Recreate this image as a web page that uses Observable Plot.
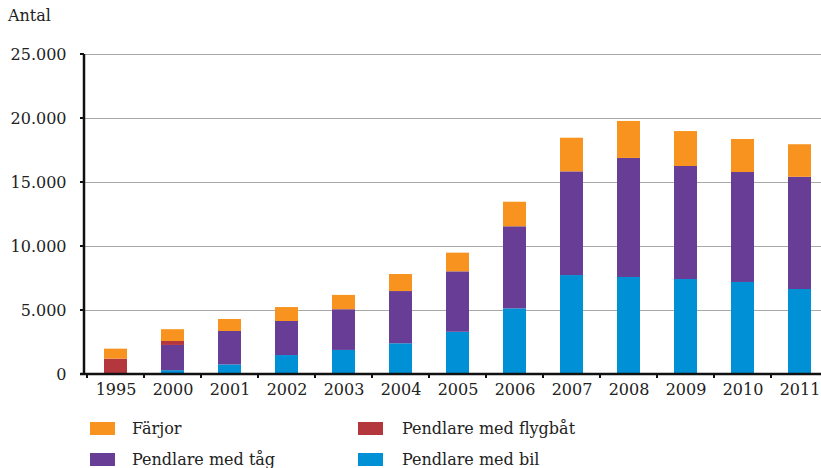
<!DOCTYPE html>
<html>
<head>
<meta charset="utf-8">
<script src="https://cdn.jsdelivr.net/npm/d3@7"></script>
<script src="https://cdn.jsdelivr.net/npm/@observablehq/plot@0.6"></script>
<style>
  body { margin: 0; background: #fff; font-family: "DejaVu Serif", serif; color: #222; }
  #wrap { position: relative; width: 821px; height: 468px; overflow: hidden; }
  #ylabel { position: absolute; left: 8px; top: 6px; font-size: 16px; }
  #chart { position: absolute; left: 0; top: 0; }
  #legend { position: absolute; left: 90px; top: 418px; display: grid; grid-template-columns: 268px 300px; row-gap: 11px; font-size: 16px; }
  .item { display: flex; align-items: center; height: 20px; }
  .sw { width: 25px; height: 13px; margin-right: 17px; }
  .item:nth-child(even) .sw { margin-right: 19px; }
</style>
</head>
<body>
<div id="wrap">
  <div id="ylabel">Antal</div>
  <div id="chart"></div>
  <div id="legend"></div>
</div>
<script>
const years = ["1995","2000","2001","2002","2003","2004","2005","2006","2007","2008","2009","2010","2011"];
const bil     = [0, 300, 750, 1480, 1880, 2400, 3300, 5130, 7730, 7580, 7420, 7190, 6640];
const tag     = [0, 1970, 2610, 2660, 3180, 4080, 4720, 6410, 8100, 9300, 8830, 8590, 8770];
const flygbat = [1200, 310, 0, 0, 0, 0, 0, 0, 0, 0, 0, 0, 0];
const farjor  = [780, 920, 940, 1090, 1120, 1330, 1460, 1920, 2630, 2890, 2730, 2580, 2540];
const seriesNames = ["Pendlare med bil", "Pendlare med tåg", "Pendlare med flygbåt", "Färjor"];
const seriesColors = ["#0090d6", "#673d96", "#b5373e", "#f7931e"];
const yTicks = [0, 5000, 10000, 15000, 20000, 25000];
const legendOrder = ["Färjor", "Pendlare med flygbåt", "Pendlare med tåg", "Pendlare med bil"];

const values = [bil, tag, flygbat, farjor];
const data = [];
years.forEach((y, i) => {
  seriesNames.forEach((s, k) => data.push({year: y, series: s, value: values[k][i]}));
});

const fmt = d => d === 0 ? "0" : d3.format(",")(d).replace(/,/g, ".");

// axis lines and boundary ticks, drawn from the plot's own scales
function axisLines(index, scales, values, dims) {
  const g = d3.create("svg:g").attr("stroke", "#111").attr("fill", "none");
  const x0 = dims.marginLeft;
  const yb = scales.y(0), yt = scales.y(25000);
  const step = scales.x(years[1]) - scales.x(years[0]);
  const bw = scales.x.bandwidth ? scales.x.bandwidth() : step * 0.4;
  // y axis line
  g.append("line").attr("x1", x0).attr("x2", x0).attr("y1", yt).attr("y2", yb).attr("stroke-width", 2.5);
  // y ticks
  for (const t of yTicks) {
    g.append("line").attr("x1", x0 - 4).attr("x2", x0).attr("y1", scales.y(t)).attr("y2", scales.y(t)).attr("stroke-width", 2);
  }
  // baseline
  g.append("line").attr("x1", x0 - 4).attr("x2", dims.width).attr("y1", yb).attr("y2", yb).attr("stroke-width", 2.5);
  // x ticks at category boundaries
  for (const yr of years) {
    const bx = scales.x(yr) + bw / 2 - step / 2;
    g.append("line").attr("x1", bx).attr("x2", bx).attr("y1", yb).attr("y2", yb + 4).attr("stroke-width", 2);
  }
  return g.node();
}

const chart = Plot.plot({
  width: 821,
  height: 400,
  marginTop: 54,
  marginBottom: 26,
  marginLeft: 84,
  marginRight: 0,
  style: {fontFamily: "DejaVu Serif, serif", fontSize: "16px", color: "#222", background: "transparent"},
  x: {domain: years, range: [84, 830], paddingInner: 0.6, paddingOuter: 0.3, label: null},
  y: {domain: [0, 25000], label: null},
  color: {domain: seriesNames, range: seriesColors},
  marks: [
    Plot.ruleY(yTicks.filter(d => d > 0), {y: d => d, stroke: "#a8a8a8", strokeWidth: 1.2}),
    Plot.barY(data, {x: "year", y: "value", fill: "series", order: seriesNames}),
    Plot.axisY({ticks: yTicks, tickFormat: fmt, tickSize: 0, tickPadding: 18, fontSize: 16}),
    Plot.axisX({tickSize: 0, tickPadding: 9, fontSize: 16}),
    axisLines
  ]
});
document.getElementById("chart").appendChild(chart);

const legend = document.getElementById("legend");
legendOrder.forEach(name => {
  const item = document.createElement("div");
  item.className = "item";
  const sw = document.createElement("span");
  sw.className = "sw";
  sw.style.background = seriesColors[seriesNames.indexOf(name)];
  const t = document.createElement("span");
  t.textContent = name;
  item.appendChild(sw);
  item.appendChild(t);
  legend.appendChild(item);
});
</script>
</body>
</html>
